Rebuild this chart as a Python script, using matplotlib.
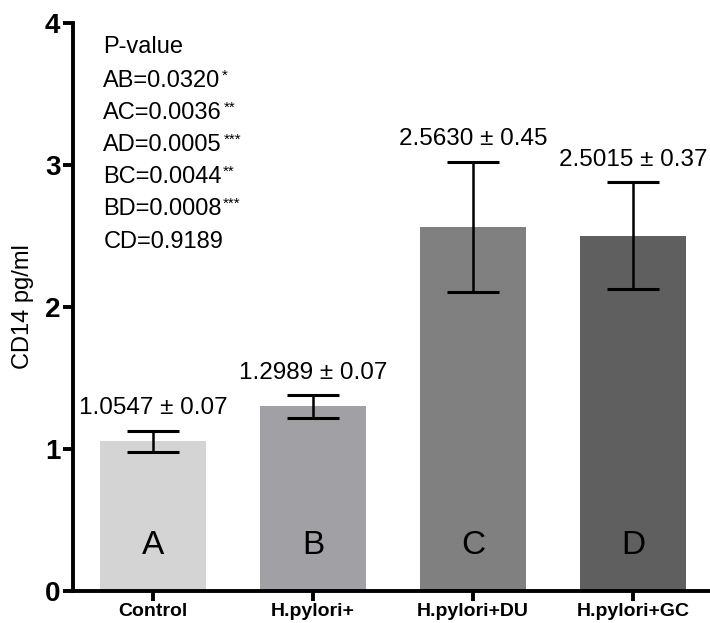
import matplotlib
matplotlib.use("Agg")
import matplotlib.pyplot as plt
import numpy as np

plt.rcParams['font.family'] = ['Liberation Sans', 'DejaVu Sans']

# data
groups = ['Control', 'H.pylori+', 'H.pylori+DU', 'H.pylori+GC']
means = [1.0547, 1.2989, 2.5630, 2.5015]
errors = [0.075, 0.078, 0.46, 0.375]
value_labels = ['1.0547 ± 0.07', '1.2989 ± 0.07', '2.5630 ± 0.45', '2.5015 ± 0.37']
letters = ['A', 'B', 'C', 'D']
colors = ['#d4d4d4', '#a1a0a4', '#808080', '#5f5f5f']

pvalue_pairs = ['AB', 'AC', 'AD', 'BC', 'BD', 'CD']
pvalues = ['0.0320', '0.0036', '0.0005', '0.0044', '0.0008', '0.9189']
stars = ['*', '**', '***', '**', '***', '']

fig = plt.figure(figsize=(7.10, 6.23), dpi=100)
ax = fig.add_axes([0.1028, 0.0514, 0.897, 0.912])

x = np.arange(len(groups))
ax.bar(x, means, width=0.667, color=colors, zorder=1)
ax.errorbar(x, means, yerr=errors, fmt='none', ecolor='black',
            elinewidth=1.8, capsize=19, capthick=2.2, zorder=2)

for xi, m, e, lab in zip(x, means, errors, value_labels):
    ax.text(xi, m + e + 0.08, lab, ha='center', va='bottom', fontsize=17.5)

for xi, letter in zip(x, letters):
    ax.text(xi, 0.32, letter, ha='center', va='center', fontsize=24)

# p-value block
ax.text(-0.31, 3.83, 'P-value', ha='left', va='center', fontsize=17)
for i, (pair, p, s) in enumerate(zip(pvalue_pairs, pvalues, stars)):
    y = 3.59 - i * 0.226
    t = ax.text(-0.31, y, pair + '=' + p, ha='left', va='center', fontsize=17)
    if s:
        ax.annotate(s, xy=(1, 1.0), xycoords=t, xytext=(1, 1),
                    textcoords='offset points', ha='left', va='top',
                    fontsize=11)

ax.set_xlim(-0.5, 3.48)
ax.set_ylim(0, 4)
ax.set_yticks([0, 1, 2, 3, 4])
ax.set_xticks(x)
ax.set_xticklabels(groups, fontsize=14, fontweight='bold',
                   family=['Liberation Sans Narrow', 'Liberation Sans'])
for lbl in ax.get_yticklabels():
    lbl.set_fontsize(20)
    lbl.set_fontweight('bold')
ax.set_ylabel('CD14 pg/ml', fontsize=17, labelpad=8)

ax.spines['top'].set_visible(False)
ax.spines['right'].set_visible(False)
ax.spines['left'].set_linewidth(2.8)
ax.spines['bottom'].set_linewidth(2.8)
ax.tick_params(axis='both', width=2.8, length=7, direction='out', pad=2)

fig.savefig('out.png', dpi=100)
